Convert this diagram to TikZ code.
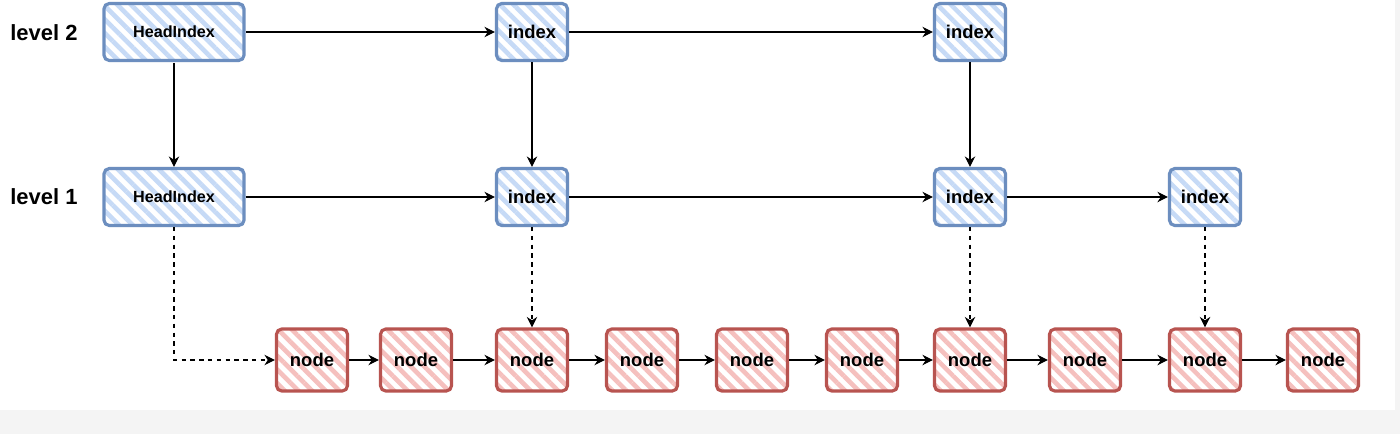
\documentclass[tikz,border=0pt]{standalone}
\usepackage{fontspec}
\setmainfont{Liberation Sans}
\usetikzlibrary{arrows.meta, patterns.meta}

\definecolor{idxline}{HTML}{6C8EBF}
\definecolor{idxfill}{HTML}{C6DAF6}
\definecolor{lstline}{HTML}{B85450}
\definecolor{lstfill}{HTML}{F5C0BE}
\definecolor{pagebg}{HTML}{F4F4F4}

\begin{document}
\begin{tikzpicture}[
  x=0.02cm, y=-0.02cm,
  font=\bfseries, >={Stealth[length=6pt, width=6pt]},
  box/.style={draw, line width=1.8pt, rounded corners=3pt,
              inner sep=0pt, align=center, text=black},
  idx/.style={box, draw=idxline,
              preaction={fill=white},
              pattern={Lines[angle=-45, distance=5.5pt, line width=2.6pt]},
              pattern color=idxfill,
              minimum width=1.42cm, minimum height=1.14cm,
              font=\bfseries\fontsize{10.5}{12}\selectfont},
  head/.style={idx, minimum width=2.8cm,
               font=\bfseries\fontsize{9.2}{11}\selectfont},
  lst/.style={box, draw=lstline,
              preaction={fill=white},
              pattern={Lines[angle=-45, distance=5.5pt, line width=2.6pt]},
              pattern color=lstfill,
              minimum width=1.42cm, minimum height=1.24cm,
              font=\bfseries\fontsize{10.5}{12}\selectfont},
  lvl/.style={anchor=west, inner sep=0pt,
              font=\bfseries\fontsize{12.5}{14}\selectfont},
  arr/.style={->, line width=0.6pt},
  ptr/.style={->, line width=0.6pt, dash pattern=on 2.5pt off 2.5pt}
]

% page
\fill[pagebg] (0,0) rectangle (1400,434);
\fill[white] (0,0) rectangle (1395,410);

% level labels
\node[lvl] (l2) at (10, 33) {level 2};
\node[lvl] (l1) at (10,197) {level 1};

% level 2
\node[head] (h2) at (174, 32) {HeadIndex};
\node[idx]  (a2) at (532, 32) {index};
\node[idx]  (b2) at (970, 32) {index};

% level 1
\node[head] (h1) at (174,197) {HeadIndex};
\node[idx]  (a1) at (532,197) {index};
\node[idx]  (b1) at (970,197) {index};
\node[idx]  (c1) at (1205,197) {index};

% base list
\foreach \i/\x in {1/312, 2/416, 3/532, 4/642, 5/752,
                   6/862, 7/970, 8/1085, 9/1205, 10/1323}
  \node[lst] (n\i) at (\x,360) {node};

\foreach \i [count=\j from 2] in {1,...,9}
  \draw[arr] (n\i) -- (n\j);

% horizontal links
\draw[arr] (h2) -- (a2);
\draw[arr] (a2) -- (b2);
\draw[arr] (h1) -- (a1);
\draw[arr] (a1) -- (b1);
\draw[arr] (b1) -- (c1);

% down links
\draw[arr] (h2) -- (h1);
\draw[arr] (a2) -- (a1);
\draw[arr] (b2) -- (b1);

\draw[ptr] (h1) |- (n1);
\draw[ptr] (a1) -- (n3);
\draw[ptr] (b1) -- (n7);
\draw[ptr] (c1) -- (n9);

\end{tikzpicture}
\end{document}
